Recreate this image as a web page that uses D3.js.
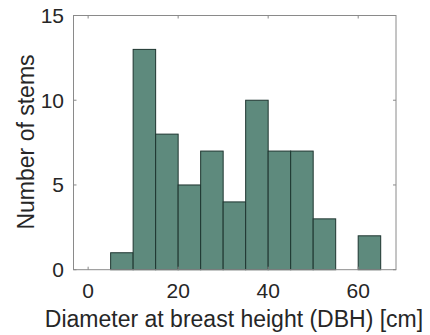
<!DOCTYPE html>
<html>
<head>
<meta charset="utf-8">
<style>
  body { margin: 0; background: #fff; }
  text { font-family: "Liberation Sans", Arial, sans-serif; }
</style>
</head>
<body>
<svg width="430" height="335"></svg>
<script src="https://d3js.org/d3.v7.min.js"></script>
<script>
// histogram bins (cm) and counts
var binStart = [5, 10, 15, 20, 25, 30, 35, 40, 45, 50, 55, 60];
var binWidth = 5;
var counts   = [1, 13, 8, 5, 7, 4, 10, 7, 7, 3, 0, 2];
var xTicks = [0, 20, 40, 60];
var yTicks = [0, 5, 10, 15];

var svg = d3.select("svg");
var mLeft = 73.5, mRight = 396, mTop = 15.5, mBottom = 269.7;

var x = d3.scaleLinear().domain([-3.25, 68.4]).range([mLeft, mRight]);
var y = d3.scaleLinear().domain([0, 15]).range([mBottom, mTop]);

var axisColor = "#8a8a8a", textColor = "#262626";

// bars
svg.append("g")
  .selectAll("rect")
  .data(binStart.map(function(d, i) { return {x0: d, n: counts[i]}; }).filter(function(d) { return d.n > 0; }))
  .enter().append("rect")
    .attr("x", function(d) { return x(d.x0); })
    .attr("y", function(d) { return y(d.n); })
    .attr("width", function(d) { return x(d.x0 + binWidth) - x(d.x0); })
    .attr("height", function(d) { return y(0) - y(d.n); })
    .attr("fill", "#5e8a7d")
    .attr("stroke", "#1e3530")
    .attr("stroke-width", 1);

// box
svg.append("rect")
  .attr("x", mLeft).attr("y", mTop)
  .attr("width", mRight - mLeft).attr("height", mBottom - mTop)
  .attr("fill", "none").attr("stroke", axisColor).attr("stroke-width", 1);

// ticks on all sides (inward)
var tl = 3;
xTicks.forEach(function(t) {
  svg.append("line").attr("x1", x(t)).attr("x2", x(t)).attr("y1", mBottom).attr("y2", mBottom - tl).attr("stroke", axisColor);
  svg.append("line").attr("x1", x(t)).attr("x2", x(t)).attr("y1", mTop).attr("y2", mTop + tl).attr("stroke", axisColor);
});
yTicks.forEach(function(t) {
  svg.append("line").attr("x1", mLeft).attr("x2", mLeft + tl).attr("y1", y(t)).attr("y2", y(t)).attr("stroke", axisColor);
  svg.append("line").attr("x1", mRight).attr("x2", mRight - tl).attr("y1", y(t)).attr("y2", y(t)).attr("stroke", axisColor);
});

// tick labels
svg.append("g").selectAll("text").data(xTicks).enter().append("text")
  .attr("x", function(d) { return x(d); })
  .attr("y", 298)
  .attr("text-anchor", "middle")
  .attr("font-size", 21)
  .attr("fill", textColor)
  .text(function(d) { return d; });

svg.append("g").selectAll("text").data(yTicks).enter().append("text")
  .attr("x", mLeft - 9.5)
  .attr("y", function(d) { return y(d) + 7.5; })
  .attr("text-anchor", "end")
  .attr("font-size", 21)
  .attr("fill", textColor)
  .text(function(d) { return d; });

// axis labels
svg.append("text")
  .attr("x", 234)
  .attr("y", 327)
  .attr("text-anchor", "middle")
  .attr("font-size", 23)
  .attr("fill", textColor)
  .text("Diameter at breast height (DBH) [cm]");

svg.append("text")
  .attr("transform", "translate(34," + 142 + ") rotate(-90)")
  .attr("text-anchor", "middle")
  .attr("font-size", 23)
  .attr("fill", textColor)
  .text("Number of stems");
</script>
</body>
</html>
